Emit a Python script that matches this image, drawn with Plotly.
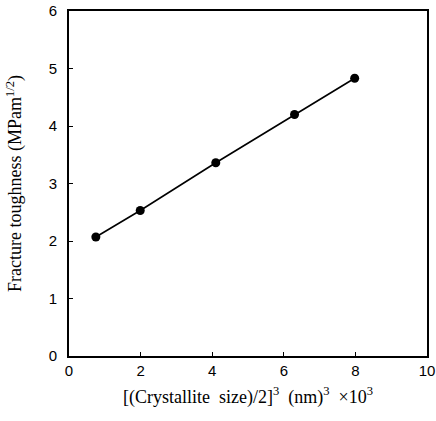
import plotly.graph_objects as go

x_vals = [0.75, 1.99, 4.1, 6.3, 7.98]
y_vals = [2.07, 2.53, 3.36, 4.2, 4.83]
x_ticks = [0, 2, 4, 6, 8, 10]
y_ticks = [0, 1, 2, 3, 4, 5, 6]

fig = go.Figure()
fig.add_trace(go.Scatter(
    x=x_vals, y=y_vals, mode="lines+markers",
    line=dict(color="black", width=1.6),
    marker=dict(color="black", size=9),
    showlegend=False,
))

axis_common = dict(
    showgrid=False, zeroline=False, showline=True, linecolor="black", linewidth=2,
    mirror=True, ticks="inside", ticklen=4, tickcolor="black", tickwidth=1,
    tickfont=dict(family="Liberation Sans, Arial", size=15, color="black"),
    automargin=False,
)
fig.update_xaxes(range=[0, 10], tickvals=x_ticks, ticktext=[str(t) for t in x_ticks],
                 title=dict(text="[(Crystallite  size)/2]<sup>3</sup>  (nm)<sup>3</sup>  ×10<sup>3</sup>",
                            font=dict(family="Liberation Serif, Times New Roman", size=18, color="black"),
                            standoff=12),
                 **axis_common)
fig.update_yaxes(range=[0, 6], tickvals=y_ticks, ticktext=[str(t) for t in y_ticks],
                 ticklabelstandoff=7,
                 title=dict(text="Fracture toughness (MPam<sup>1/2</sup>)",
                            font=dict(family="Liberation Serif, Times New Roman", size=18, color="black"),
                            standoff=22),
                 **axis_common)
fig.update_layout(
    width=436, height=421, margin=dict(l=69, r=9, t=11, b=65),
    plot_bgcolor="white", paper_bgcolor="white",
)
fig.write_html("out.html", config={"displayModeBar": False},
               post_script="document.body.style.margin='0';document.body.style.padding='0';")
